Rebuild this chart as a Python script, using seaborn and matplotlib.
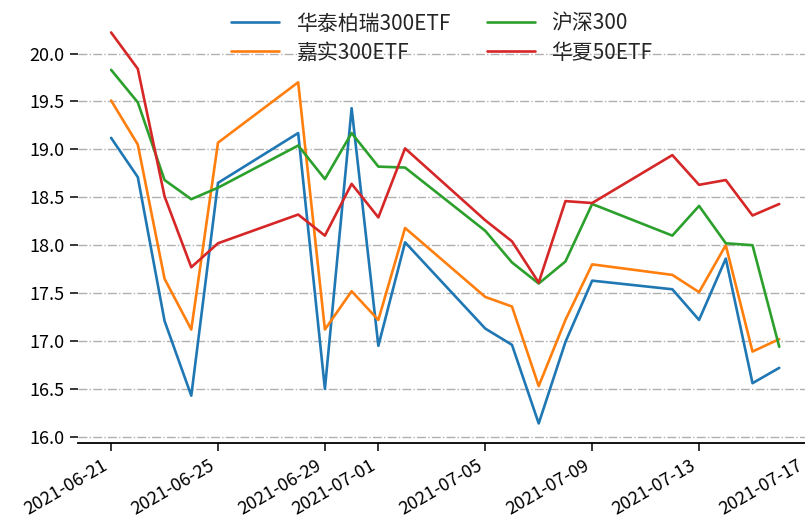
import numpy as np
import pandas as pd
import matplotlib
matplotlib.use("Agg")
import matplotlib.pyplot as plt
import seaborn as sns

# trading days
dates = ["2021-06-21", "2021-06-22", "2021-06-23", "2021-06-24", "2021-06-25",
         "2021-06-28", "2021-06-29", "2021-06-30", "2021-07-01", "2021-07-02",
         "2021-07-05", "2021-07-06", "2021-07-07", "2021-07-08", "2021-07-09",
         "2021-07-12", "2021-07-13", "2021-07-14", "2021-07-15", "2021-07-16"]

series_names = ["华泰柏瑞300ETF", "嘉实300ETF", "沪深300", "华夏50ETF"]

huatai_300 = [19.12, 18.71, 17.21, 16.43, 18.65, 19.17, 16.50, 19.43, 16.95, 18.03,
              17.13, 16.96, 16.14, 16.99, 17.63, 17.54, 17.22, 17.86, 16.56, 16.72]
jiashi_300 = [19.51, 19.05, 17.65, 17.12, 19.07, 19.70, 17.12, 17.52, 17.22, 18.18,
              17.46, 17.36, 16.53, 17.22, 17.80, 17.69, 17.51, 18.00, 16.89, 17.02]
hs_300 = [19.83, 19.49, 18.68, 18.48, 18.60, 19.04, 18.69, 19.17, 18.82, 18.81,
          18.15, 17.82, 17.60, 17.83, 18.43, 18.10, 18.41, 18.02, 18.00, 16.94]
huaxia_50 = [20.22, 19.84, 18.51, 17.77, 18.02, 18.32, 18.10, 18.64, 18.29, 19.01,
             18.26, 18.04, 17.61, 18.46, 18.44, 18.94, 18.63, 18.68, 18.31, 18.43]

df = pd.DataFrame({
    "date": pd.to_datetime(dates * 4),
    "value": huatai_300 + jiashi_300 + hs_300 + huaxia_50,
    "fund": np.repeat(series_names, len(dates)),
})

sns.set_theme(style="ticks")
plt.rcParams["font.family"] = ["Noto Sans CJK SC", "DejaVu Sans"]
plt.rcParams["axes.unicode_minus"] = False

fig = plt.figure(figsize=(8.05, 5.29), dpi=100)
ax = fig.add_axes([0.0965, 0.1626, 0.913, 0.813])

sns.lineplot(data=df, x="date", y="value", hue="fund", hue_order=series_names,
             palette=sns.color_palette("tab10", 4), linewidth=1.9, ax=ax)

ax.grid(axis="y", linestyle="-.", linewidth=1.0, color="#b0b0b0")
ax.set_xlabel("")
ax.set_ylabel("")
ax.set_yticks([16.0, 16.5, 17.0, 17.5, 18.0, 18.5, 19.0, 19.5, 20.0])
ax.tick_params(axis="both", labelsize=13, length=6, width=1.1, color="black", labelcolor="black")
for lab in ax.get_xticklabels():
    lab.set_rotation(30)
    lab.set_ha("right")

sns.despine(ax=ax, left=True)
ax.spines["bottom"].set_color("black")
ax.spines["bottom"].set_linewidth(1.3)

ax.legend(loc="upper center", bbox_to_anchor=(0.549, 1.0), bbox_transform=fig.transFigure,
          ncol=2, frameon=False, fontsize=15, handlelength=2.3, handletextpad=0.8,
          columnspacing=1.75, labelspacing=0.35, borderpad=0.1)

fig.savefig("out.png", dpi=100)
